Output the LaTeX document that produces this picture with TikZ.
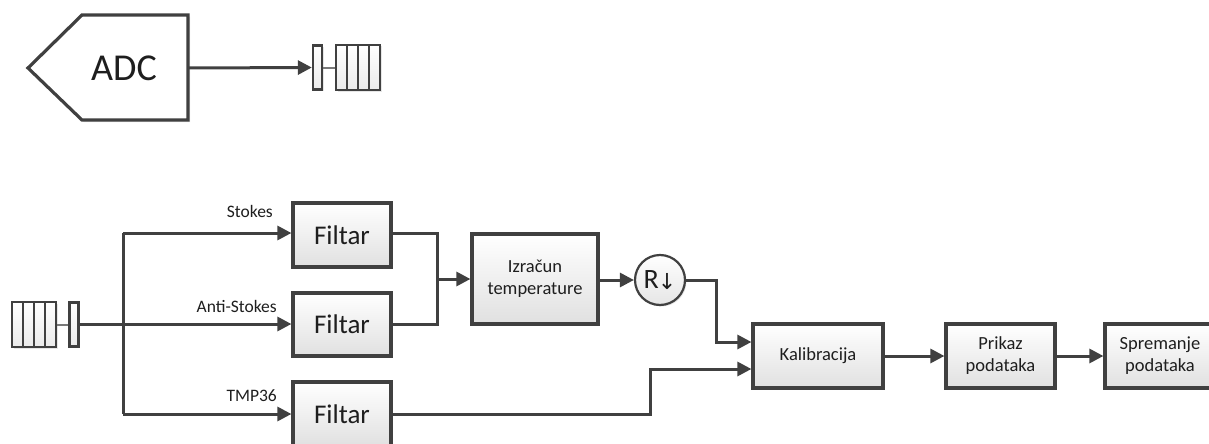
\documentclass[tikz,border=0pt]{standalone}
\usepackage{fontspec}
\setmainfont{Carlito}
\newfontfamily\symf{DejaVu Sans}
\usetikzlibrary{arrows.meta,shadows,calc}
\definecolor{ln}{HTML}{404040}
\definecolor{txt}{HTML}{1E1E1E}
\tikzset{
  blk/.style={draw=ln, line width=3.2pt, top color=white, bottom color=black!12,
    drop shadow={opacity=0.22, shadow xshift=2pt, shadow yshift=-2pt},
    text=txt, align=center, inner sep=0pt, font=\fontsize{18.5}{22}\selectfont},
  bigblk/.style={blk, font=\fontsize{27}{30}\selectfont},
  qbox/.style={draw=ln, line width=2.4pt, top color=white, bottom color=black!8,
    drop shadow={opacity=0.2, shadow xshift=1.5pt, shadow yshift=-1.5pt}, inner sep=0pt},
  conn/.style={draw=ln, line width=3pt, -{Triangle[length=14pt,width=14pt]}},
  wire/.style={draw=ln, line width=3pt},
  thinwire/.style={draw=ln!70, line width=2pt},
  lbl/.style={text=txt, font=\fontsize{17.5}{20}\selectfont, anchor=east, inner sep=0pt},
}
\begin{document}
\begin{tikzpicture}[x=1pt,y=-1pt]
\useasboundingbox (0,0) rectangle (1209,444);

% ADC
\draw[draw=ln, line width=3.2pt, fill=white,
  drop shadow={opacity=0.2, shadow xshift=2pt, shadow yshift=-2pt}]
  (28,68) -- (82,15) -- (188,15) -- (188,120) -- (82,120) -- cycle;
\node[text=txt, font=\fontsize{38}{40}\selectfont, inner sep=0pt] (adc) at (124,68) {ADC};
\coordinate (adcout) at (188,68);

% top queue
\node[qbox, minimum width=9pt, minimum height=44pt] (q1s) at (317.5,67.5) {};
\node[qbox, minimum width=44pt, minimum height=45pt] (q1) at (358,67.5) {};
\foreach \xx in {347,358,369} \draw[draw=ln, line width=2.4pt] (\xx,45) -- (\xx,90);
\draw[conn] (adcout) -- (q1s.west);
\draw[thinwire] (q1s.east) -- (q1.west);

% bottom queue
\node[qbox, minimum width=44pt, minimum height=45pt] (q2) at (34,324.5) {};
\foreach \xx in {23,34,45} \draw[draw=ln, line width=2.4pt] (\xx,302) -- (\xx,347);
\node[qbox, minimum width=9pt, minimum height=44pt] (q2s) at (74,324.5) {};
\draw[thinwire] (q2.east) -- (q2s.west);

\coordinate (j) at (123,324);
\coordinate (jt) at (123,233);
\coordinate (jb) at (123,414);
\draw[wire] (q2s.east |- j) -- (j);

% filters
\node[bigblk, minimum width=98pt, minimum height=64pt] (f1) at (342,235) {Filtar};
\node[bigblk, minimum width=98pt, minimum height=63pt] (f2) at (342,324.5) {Filtar};
\node[bigblk, minimum width=98pt, minimum height=64pt] (f3) at (342,414) {Filtar};

\draw[wire] (jt) -- (jb);
\draw[conn] (jt) -- (jt -| f1.west);
\draw[conn] (j) -- (j -| f2.west);
\draw[conn] (jb) -- (jb -| f3.west);

\node[lbl] (ls) at (273,211) {Stokes};
\node[lbl] (la) at (277,306) {Anti-Stokes};
\node[lbl] (lt) at (277,396) {TMP36};

% Izracun
\node[blk, minimum width=126pt, minimum height=90pt] (iz) at (535,279) {Izračun\\temperature};
\coordinate (m1) at (437,233);
\coordinate (m2) at (437,324);
\coordinate (mj) at (437,279);
\draw[wire] (f1.east |- m1) -- (m1) -- (m2) -- (f2.east |- m2);
\draw[conn] (mj) -- (iz.west);

% R circle
\node[circle, draw=ln, line width=2.2pt, top color=white, bottom color=black!10,
  drop shadow={opacity=0.2, shadow xshift=1.5pt, shadow yshift=-1.5pt},
  minimum size=50pt, inner sep=0pt, text=txt] (r) at (660,280)
  {\fontsize{28}{30}\selectfont R\hspace{-1pt}\raisebox{-1pt}{\symf\fontsize{22}{24}\selectfont ↓}};
\draw[conn] (iz.east |- r) -- (r.west);

% Kalibracija etc
\node[blk, minimum width=130pt, minimum height=64pt] (kal) at (818,356) {Kalibracija};
\node[blk, minimum width=109pt, minimum height=64pt] (pri) at (1000.5,356) {Prikaz\\podataka};
\node[blk, minimum width=110pt, minimum height=64pt] (spr) at (1160,356) {Spremanje\\podataka};

\coordinate (c1) at (716,280);
\coordinate (c2) at (716,342);
\draw[conn] (r.east) -- (c1) -- (c2) -- (c2 -| kal.west);
\coordinate (t1) at (650,414);
\coordinate (t2) at (650,369);
\draw[conn] (f3.east) -- (t1) -- (t2) -- (t2 -| kal.west);

\draw[conn] (kal.east) -- (pri.west);
\draw[conn] (pri.east) -- (spr.west);
\end{tikzpicture}
\end{document}
